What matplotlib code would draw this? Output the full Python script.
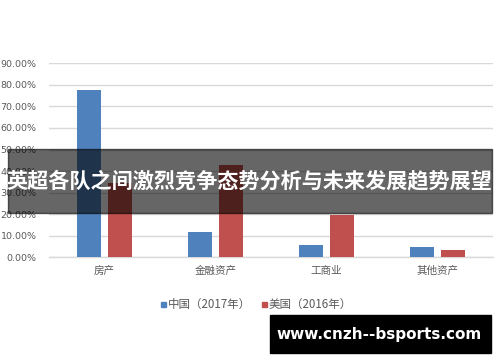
import matplotlib
matplotlib.use("Agg")
import matplotlib.pyplot as plt
from matplotlib.patches import Rectangle
import numpy as np

plt.rcParams['font.family'] = ['Noto Sans CJK SC', 'DejaVu Sans']

categories = ["房产", "金融资产", "工商业", "其他资产"]
china_2017 = [0.777, 0.118, 0.055, 0.048]
usa_2016 = [0.346, 0.426, 0.194, 0.033]
series_names = ["中国（2017年）", "美国（2016年）"]
yticks = [0.0, 0.1, 0.2, 0.3, 0.4, 0.5, 0.6, 0.7, 0.8, 0.9]
title_text = "英超各队之间激烈竞争态势分析与未来发展趋势展望"
watermark = "www.cnzh--bsports.com"

W, H = 500, 362
fig = plt.figure(figsize=(W / 100, H / 100), dpi=100)
fig.patch.set_facecolor("white")

def px(x0, y0_top, w, h):
    return [x0 / W, (H - y0_top - h) / H, w / W, h / H]

ax = fig.add_axes(px(49, 63.3, 444, 194))
x = np.arange(len(categories))
bw = 0.22
off = 0.142
ax.bar(x - off, china_2017, bw, color="#4f81bd", zorder=3, label=series_names[0])
ax.bar(x + off, usa_2016, bw, color="#c0504d", zorder=3, label=series_names[1])
ax.set_xlim(-0.5, len(categories) - 0.5)
ax.set_ylim(0, 0.9)
ax.set_yticks(yticks)
ax.set_yticklabels([f"{v*100:.2f}%" for v in yticks], fontsize=6.8, color="#595959",
                   family=['DejaVu Sans'])
ax.set_xticks(x)
ax.set_xticklabels(categories, fontsize=7.6, color="#595959")
ax.tick_params(axis='both', length=0)
ax.tick_params(axis='y', pad=9)
ax.tick_params(axis='x', pad=6)
ax.grid(axis='y', color="#d9d9d9", linewidth=1, zorder=0)
for s in ["top", "right", "left"]:
    ax.spines[s].set_visible(False)
ax.spines["bottom"].set_color("#d9d9d9")
ax.spines["bottom"].set_linewidth(1)

# legend
colors = ["#4f81bd", "#c0504d"]
lx = [161, 262]
for i in range(2):
    fig.patches.append(Rectangle((lx[i] / W, (H - 307) / H), 5 / W, 5 / H,
                                 transform=fig.transFigure, color=colors[i]))
    fig.text((lx[i] + 7) / W, (H - 304.5) / H, series_names[i], fontsize=8.3,
             color="#595959", va="center", ha="left")

# banner
fig.patches.append(Rectangle((8 / W, (H - 213) / H), 484 / W, 64 / H,
                             transform=fig.transFigure, color="black", alpha=0.6, zorder=10))
fig.text(249 / W, (H - 181) / H, title_text, fontsize=15.2, fontweight="bold",
         color="white", ha="center", va="center", zorder=11)

# watermark
fig.patches.append(Rectangle((270 / W, (H - 353) / H), 221 / W, 38 / H,
                             transform=fig.transFigure, color="black", zorder=10))
fig.text(379 / W, (H - 334) / H, watermark, fontsize=11, fontweight="bold",
         color="white", ha="center", va="center", family=['DejaVu Sans'], zorder=11)

fig.savefig("out.png", dpi=100)
